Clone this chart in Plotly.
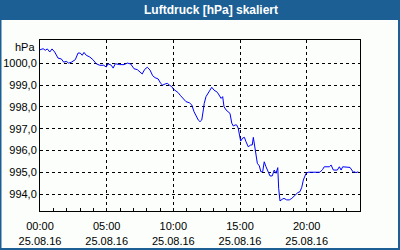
import plotly.graph_objects as go

times = ["00:00","00:14","00:24","00:33","00:44","00:54","01:06","01:21","01:36","01:47",
         "01:58","02:09","02:21","02:39","02:51","03:01","03:10","03:18","03:28","03:44",
         "03:58","04:13","04:29","04:47","04:58","05:06","05:21","05:29","05:39","05:59",
         "06:18","06:33","06:48","07:03","07:18","07:29","07:40","07:51","08:03","08:15",
         "08:27","08:38","08:52","09:03","09:12","09:23","09:33","09:42","09:53","10:00",
         "10:12","10:22","10:33","10:45","10:57","11:12","11:23","11:33","11:45","11:52",
         "12:00","12:08","12:15","12:19","12:27","12:37","12:45","12:53","13:03","13:18",
         "13:27","13:35","13:42","13:48","13:57","14:07","14:15","14:23","14:30","14:38",
         "14:45","14:52","15:00","15:03","15:12","15:20","15:27","15:37","15:48","15:55",
         "16:00","16:08","16:12","16:18","16:27","16:34","16:42","16:49","16:57","17:07",
         "17:15","17:25","17:34","17:42","17:50","17:54","18:00","18:10","18:18","18:30",
         "18:42","18:53","19:08","19:20","19:30","19:38","19:45","19:57","20:07","21:00",
         "21:12","21:19","21:42","21:50","22:00","22:18","22:27","22:35","22:42","22:53",
         "23:15","23:30","23:35","23:42","23:52"]
pressure = [1000.62,1000.67,1000.60,1000.66,1000.52,1000.66,1000.52,1000.24,1000.20,1000.05,
            1000.09,1000.01,1000.05,1000.17,1000.47,1000.47,1000.37,1000.50,1000.37,1000.29,
            1000.17,999.98,999.91,999.91,999.83,999.98,999.91,999.78,999.98,999.94,
            999.94,1000.01,999.97,999.75,999.71,999.63,999.51,999.72,999.82,999.69,
            999.43,999.34,999.28,999.08,999.00,999.05,999.08,999.00,998.93,998.82,
            998.73,998.65,998.51,998.35,998.24,998.19,998.09,997.78,997.55,997.40,
            997.32,997.40,997.86,998.16,998.47,998.67,998.77,998.90,998.77,998.67,
            998.54,998.39,998.47,998.01,997.86,997.75,997.70,997.25,997.12,997.17,
            997.17,997.02,996.63,996.43,996.57,996.60,996.40,996.17,996.25,996.25,
            996.60,996.02,995.79,995.41,995.29,995.02,995.02,995.48,995.25,995.02,
            994.83,994.83,995.10,994.95,995.21,994.26,993.68,993.76,993.80,993.73,
            993.73,993.80,993.96,994.06,994.11,994.31,994.64,994.95,995.00,995.00,
            995.13,995.25,995.25,995.33,995.10,995.10,995.25,995.10,995.25,995.25,
            995.22,995.00,995.02,994.98,995.02]

day = "2016-08-25"
x_vals = [f"{day} {t}" for t in times]

xtick_vals = [f"{day} 00:00", f"{day} 05:00", f"{day} 10:00", f"{day} 15:00", f"{day} 20:00"]
xtick_text = ["00:00<br>25.08.16", "05:00<br>25.08.16", "10:00<br>25.08.16",
              "15:00<br>25.08.16", "20:00<br>25.08.16"]
ytick_vals = [994, 995, 996, 997, 998, 999, 1000]
ytick_text = ["994,0", "995,0", "996,0", "997,0", "998,0", "999,0", "1000,0"]

title = "Luftdruck [hPa] skaliert"
unit = "hPa"

FONT = "Liberation Sans"
BLUE = "#1c5f95"

fig = go.Figure(go.Scatter(x=x_vals, y=pressure, mode="lines",
                           line=dict(color="#0000ff", width=1), hoverinfo="skip"))

L, R, T, B = 40, 40, 40, 39
W, H = 400, 250
pw, ph = W - L - R, H - T - B

def px(x):
    return (x - L) / pw

def py(y):
    return (H - B - y) / ph

fig.update_layout(
    width=W, height=H,
    margin=dict(l=L, r=R, t=T, b=B, pad=0, autoexpand=False),
    paper_bgcolor=BLUE,
    plot_bgcolor="#ffffff",
    showlegend=False,
    font=dict(family=FONT, size=11, color="#000000"),
    xaxis=dict(
        type="date",
        range=[f"{day} 00:00", "2016-08-26 00:00"],
        tickvals=xtick_vals, ticktext=xtick_text,
        showgrid=True, gridcolor="#000000", griddash="3px,3px", gridwidth=1,
        showline=True, linecolor="#000000", linewidth=1, mirror=True,
        ticks="inside", ticklen=3, tickcolor="#000000",
        ticklabelstandoff=5, automargin=False,
        minor=dict(dtick=3600000, ticks="inside", ticklen=3, tickcolor="#000000",
                   showgrid=False),
        zeroline=False, fixedrange=True,
        tickfont=dict(family=FONT, size=11),
    ),
    yaxis=dict(
        range=[993.22, 1001.07],
        tickvals=ytick_vals, ticktext=ytick_text,
        showgrid=True, gridcolor="#000000", griddash="3px,3px", gridwidth=1,
        showline=True, linecolor="#000000", linewidth=1, mirror=True,
        ticks="", zeroline=False, fixedrange=True, automargin=False,
        tickfont=dict(family=FONT, size=11),
    ),
    shapes=[
        dict(type="rect", xref="paper", yref="paper", layer="below",
             x0=px(1.5), x1=px(398), y0=py(20), y1=py(248),
             line=dict(width=0), fillcolor="#fbfefb"),
    ],
    annotations=[
        dict(text="<b>" + title + "</b>", xref="paper", yref="paper",
             x=px(211), y=py(10), xanchor="center", yanchor="middle",
             showarrow=False, font=dict(family=FONT, size=12, color="#ffffff")),
        dict(text=unit, xref="paper", yref="paper",
             x=px(37), y=py(47), xanchor="right", yanchor="middle",
             showarrow=False, font=dict(family=FONT, size=11, color="#000000")),
    ],
)

fig.write_html("out.html", config={"displayModeBar": False})
